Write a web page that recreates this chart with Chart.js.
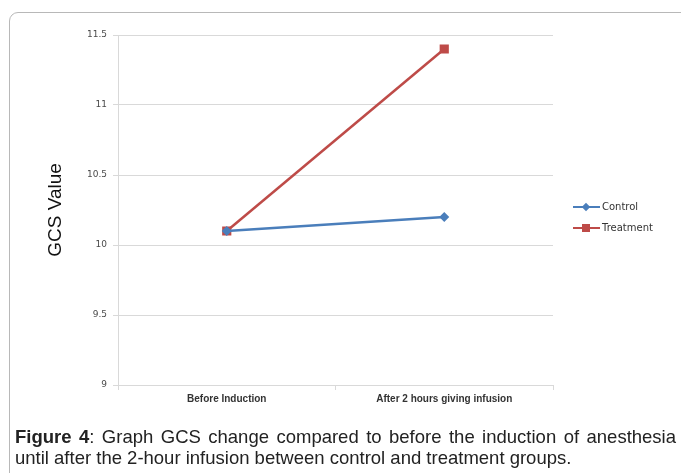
<!DOCTYPE html>
<html>
<head>
<meta charset="utf-8">
<script src="https://cdn.jsdelivr.net/npm/chart.js@4/dist/chart.umd.min.js"></script>
<style>
  html, body { margin: 0; padding: 0; background: #fff; }
  body { width: 681px; height: 473px; position: relative; overflow: hidden; }
  .frame {
    position: absolute; left: 9px; top: 12px; width: 700px; height: 500px;
    border: 1px solid #b8b8b8; border-radius: 9px; box-sizing: border-box;
  }
  #chart { position: absolute; left: 0; top: 0; }
  .legend { position: absolute; left: 573px; top: 200px; font: 10px "DejaVu Sans", sans-serif; color: #333; }
  .legend .row { position: relative; height: 21px; line-height: 14px; padding-left: 29px; }
  .legend .ln { position: absolute; left: 0; top: 6px; width: 27px; height: 2px; }
  .legend .mk { position: absolute; }
  .caption {
    position: absolute; left: 15px; top: 426px; width: 661px;
    font: 18.5px "Liberation Sans", Arial, sans-serif;
    line-height: 21px; color: #222;
  }
  .caption .l1 { text-align: justify; text-align-last: justify; }
</style>
</head>
<body>
<div class="frame"></div>
<canvas id="chart" width="681" height="473"></canvas>
<div class="legend" id="legend"></div>
<div class="caption">
  <div class="l1"><b>Figure 4</b>: Graph GCS change compared to before the induction of anesthesia</div>
  <div>until after the 2-hour infusion between control and treatment groups.</div>
</div>
<script>
"use strict";

// ─── Data ─────────────────────────────────────────────────
const categories = ["Before Induction", "After 2 hours giving infusion"];
const controlValues = [10.1, 10.2];
const treatmentValues = [10.1, 11.4];
const yTicks = [9, 9.5, 10, 10.5, 11, 11.5];

const COLORS = {
  control: "#4a7ebb",
  treatment: "#be4b48",
  grid: "#d9d9d9",
};

// ─── Chart ────────────────────────────────────────────────
const ctx = document.getElementById("chart");
new Chart(ctx, {
  type: "line",
  data: {
    labels: categories,
    datasets: [
      {
        label: "Control",
        data: controlValues,
        borderColor: COLORS.control,
        backgroundColor: COLORS.control,
        borderWidth: 2.5,
        pointStyle: "rectRot",
        pointRadius: 5,
        pointBorderWidth: 0,
      },
      {
        label: "Treatment",
        data: treatmentValues,
        borderColor: COLORS.treatment,
        backgroundColor: COLORS.treatment,
        borderWidth: 2.5,
        pointStyle: "rect",
        pointRadius: 6.5,
        pointBorderWidth: 0,
      },
    ],
  },
  options: {
    responsive: false,
    animation: false,
    layout: { padding: { left: 0, top: 35, right: 128, bottom: 68 } },
    plugins: { legend: { display: false }, tooltip: { enabled: false } },
    scales: {
      x: {
        offset: true,
        afterFit: (s) => { s.height = 20; },
        grid: { offset: true, drawOnChartArea: false, drawTicks: true, tickLength: 5, color: COLORS.grid },
        border: { color: COLORS.grid },
        ticks: { color: "#333", font: { family: "Liberation Sans", size: 10, weight: "bold" }, padding: 3, maxRotation: 0 },
      },
      y: {
        min: 9,
        max: 11.5,
        afterFit: (s) => { s.width = 118; },
        afterBuildTicks: (s) => { s.ticks = yTicks.map(v => ({ value: v })); },
        grid: { color: COLORS.grid, tickLength: 5 },
        border: { color: COLORS.grid },
        ticks: {
          color: "#4a4a4a",
          font: { family: "DejaVu Sans", size: 9 },
          padding: 6,
          callback: (v) => String(v),
        },
        title: {
          display: true,
          text: "GCS Value",
          color: "#111",
          font: { family: "Liberation Sans", size: 19 },
          padding: { top: 44, bottom: 0 },
        },
      },
    },
  },
});

// ─── Legend (HTML) ────────────────────────────────────────
const legendItems = [
  { name: "Control", color: COLORS.control, shape: "diamond" },
  { name: "Treatment", color: COLORS.treatment, shape: "square" },
];
const legendEl = document.getElementById("legend");
legendItems.forEach(item => {
  const row = document.createElement("div");
  row.className = "row";
  const ln = document.createElement("span");
  ln.className = "ln";
  ln.style.background = item.color;
  const mk = document.createElement("span");
  mk.className = "mk";
  mk.style.background = item.color;
  if (item.shape === "diamond") {
    Object.assign(mk.style, { left: "10px", top: "4px", width: "6px", height: "6px", transform: "rotate(45deg)" });
  } else {
    Object.assign(mk.style, { left: "9px", top: "3px", width: "8px", height: "8px" });
  }
  row.appendChild(ln);
  row.appendChild(mk);
  row.appendChild(document.createTextNode(item.name));
  legendEl.appendChild(row);
});
</script>
</body>
</html>
